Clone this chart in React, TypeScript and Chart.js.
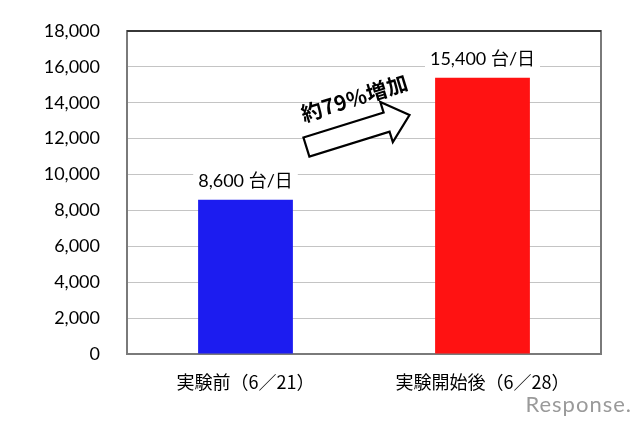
import { useEffect, useRef } from 'react';
import { Chart, registerables } from 'chart.js';

Chart.register(...registerables);

// ---- data ----
const categories = ['実験前（6／21）', '実験開始後（6／28）'];
const trafficPerDay = [8600, 15400];
const valueLabels = ['8,600 台/日', '15,400 台/日'];
const barColors = ['#1c1cf0', '#ff1212'];
const yMin = 0;
const yMax = 18000;
const yStep = 2000;
const annotationText = '約79%増加';
const watermarkText = 'Response.';

// annotation anchors in data units (category index, value)
const ARROW = { fromX: 0.257, fromY: 11530, toX: 0.692, toY: 13320 };
const NOTE = { x: 0.46, y: 14260 };

const LATIN = "Lato, 'Noto Sans CJK JP', sans-serif";
const CJK = "'Noto Sans CJK JP', sans-serif";

const decorPlugin = {
  id: 'decor',
  beforeDatasetsDraw(chart: any) {
    const { ctx, chartArea: a } = chart;
    ctx.save();
    ctx.strokeStyle = '#7a7a7a';
    ctx.lineWidth = 2;
    ctx.strokeRect(a.left, a.top, a.right - a.left, a.bottom - a.top);
    ctx.strokeStyle = '#222';
    ctx.lineWidth = 1.5;
    ctx.beginPath();
    ctx.moveTo(a.left, a.top);
    ctx.lineTo(a.right, a.top);
    ctx.stroke();
    ctx.restore();
  },
  afterDatasetsDraw(chart: any) {
    const { ctx } = chart;
    const meta = chart.getDatasetMeta(0);
    const xs = chart.scales.x;
    const ys = chart.scales.y;
    ctx.save();
    // value labels
    ctx.font = `18px ${LATIN}`;
    ctx.textAlign = 'center';
    ctx.textBaseline = 'middle';
    meta.data.forEach((bar: any, i: number) => {
      const txt = valueLabels[i];
      const w = ctx.measureText(txt).width;
      const cy = bar.y - 18;
      ctx.fillStyle = '#fff';
      ctx.fillRect(bar.x - w / 2 - 5, cy - 11, w + 10, 22);
      ctx.fillStyle = '#000';
      ctx.fillText(txt, bar.x, cy);
    });

    // arrow
    const x1 = xs.getPixelForValue(ARROW.fromX);
    const y1 = ys.getPixelForValue(ARROW.fromY);
    const x2 = xs.getPixelForValue(ARROW.toX);
    const y2 = ys.getPixelForValue(ARROW.toY);
    const ang = Math.atan2(y2 - y1, x2 - x1);
    const L = Math.hypot(x2 - x1, y2 - y1);
    const sh = 10, hl = 24, hw = 21;
    ctx.translate(x1, y1);
    ctx.rotate(ang);
    ctx.beginPath();
    ctx.moveTo(0, -sh);
    ctx.lineTo(L - hl, -sh);
    ctx.lineTo(L - hl, -hw);
    ctx.lineTo(L, 0);
    ctx.lineTo(L - hl, hw);
    ctx.lineTo(L - hl, sh);
    ctx.lineTo(0, sh);
    ctx.closePath();
    ctx.fillStyle = '#fff';
    ctx.fill();
    ctx.strokeStyle = '#000';
    ctx.lineWidth = 2.2;
    ctx.lineJoin = 'miter';
    ctx.stroke();
    ctx.setTransform(1, 0, 0, 1, 0, 0);

    // annotation text
    const tx = xs.getPixelForValue(NOTE.x);
    const ty = ys.getPixelForValue(NOTE.y);
    ctx.translate(tx, ty);
    ctx.rotate(ang);
    ctx.font = `bold 21px ${CJK}`;
    ctx.fillStyle = '#000';
    ctx.textAlign = 'center';
    ctx.textBaseline = 'middle';
    (ctx as any).letterSpacing = '0.5px';
    ctx.fillText(annotationText, 0, 0);
    ctx.setTransform(1, 0, 0, 1, 0, 0);
    ctx.restore();
  },
  afterDraw(chart: any) {
    const { ctx, width, height } = chart;
    ctx.save();
    ctx.font = `22px ${LATIN}`;
    ctx.fillStyle = '#9a9a9a';
    ctx.textAlign = 'right';
    ctx.textBaseline = 'alphabetic';
    (ctx as any).letterSpacing = '1px';
    ctx.fillText(watermarkText, width - 8, height - 12);
    ctx.restore();
  },
};

export default function App() {
  const ref = useRef<HTMLCanvasElement>(null);
  useEffect(() => {
    document.body.style.margin = '0';
    const chart = new Chart(ref.current!, {
      type: 'bar',
      data: {
        labels: categories,
        datasets: [
          {
            data: trafficPerDay,
            backgroundColor: barColors,
            borderWidth: 0,
            barPercentage: 0.4,
            categoryPercentage: 1,
          },
        ],
      },
      options: {
        responsive: false,
        animation: false,
        devicePixelRatio: 1,
        layout: { padding: { left: 0, right: 39, top: 31, bottom: 0 } },
        plugins: { legend: { display: false }, tooltip: { enabled: false } },
        scales: {
          x: {
            grid: { display: false, drawTicks: false },
            border: { display: false },
            ticks: { color: '#000', font: { family: CJK, size: 18 }, padding: 17 },
            afterFit: (s: any) => { s.height = 70; },
          },
          y: {
            min: yMin,
            max: yMax,
            grid: { color: '#c4c4c4', lineWidth: 1, drawTicks: false },
            border: { display: false },
            ticks: {
              stepSize: yStep,
              color: '#000',
              font: { family: LATIN, size: 18 },
              padding: 27,
              callback: (v: any) => Number(v).toLocaleString('en-US'),
            },
            afterFit: (s: any) => { s.width = 127; s.paddingTop = 0; s.paddingBottom = 0; },
          },
        },
      },
      plugins: [decorPlugin],
    });
    return () => chart.destroy();
  }, []);
  return (
    <div style={{ position: 'fixed', left: 0, top: 0, width: 640, height: 424, background: '#fff' }}>
      <canvas ref={ref} width={640} height={424} style={{ display: 'block' }} />
    </div>
  );
}
